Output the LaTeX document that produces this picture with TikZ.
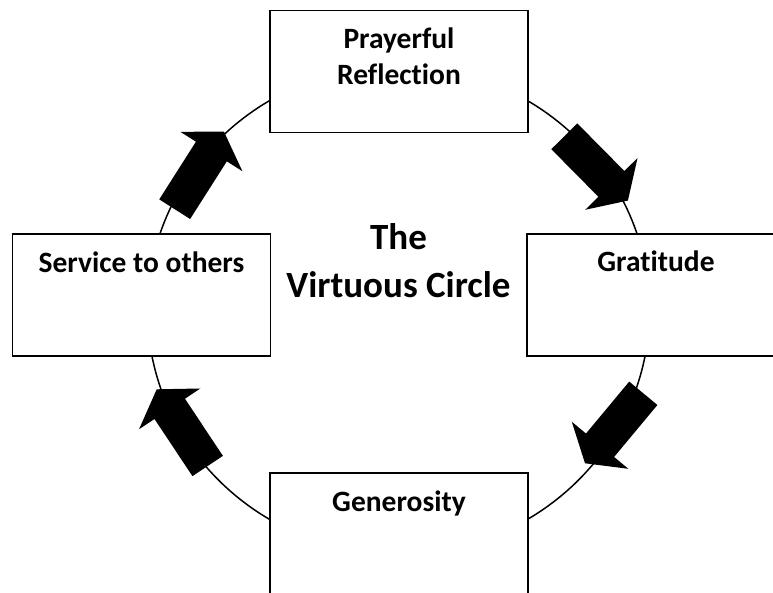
\documentclass[tikz,border=0pt]{standalone}
\usepackage{fontspec}
\setmainfont{Carlito}[Ligatures=NoCommon]
\usetikzlibrary{calc}
\begin{document}
\begin{tikzpicture}[x=1pt,y=-1pt,
  box/.style={draw, line width=1.8pt, fill=white, minimum width=258pt, minimum height=122pt, inner sep=0pt},
  boxtxt/.style={font=\fontsize{29.5}{36}\selectfont\bfseries, align=center, inner sep=0pt},
  centretxt/.style={font=\fontsize{37}{47.5}\selectfont\bfseries, align=center, inner sep=0pt},
  ring/.style={line width=1.5pt},
  blockarrow/.style={fill=black, draw=none}]
\clip (0,0) rectangle (773,593);
\draw[ring] (398.5,310) ellipse [x radius=251pt, y radius=244pt];
% boxes
\node[box] (pr) at (399,71.5) {};
\node[box] (gr) at (656,295) {};
\node[box] (ge) at (399,534) {};
\node[box] (se) at (141.5,295) {};
% texts (anchor=base is the baseline of the last line)
\node[boxtxt, anchor=base] (prt) at (399,85) {Prayerful\\Reflection};
\node[boxtxt, anchor=base] (grt) at (656,272) {Gratitude};
\node[boxtxt, anchor=base] (get) at (399,511.7) {Generosity};
\node[boxtxt, anchor=base] (sert) at (141.5,272.7) {Service to others};
\node[centretxt, anchor=base] (title) at (398.5,297.5) {The\\Virtuous Circle};
% block arrows
\foreach \n/\tx/\ty/\px/\py in {1/564.3/136.3/627.9/200.6, 2/643.3/393.3/585/463.3, 3/207.7/466/156.7/389.3, 4/174.7/209.2/224/131.7}{
  \coordinate (t\n) at (\tx,\ty);
  \coordinate (p\n) at (\px,\py);
  \coordinate (h\n) at ($(p\n)!23.5pt!(t\n)$);
  \fill[blockarrow] ($(t\n)!18.3pt!90:(p\n)$) -- ($(h\n)!18.3pt!90:(p\n)$) -- ($(h\n)!36.8pt!90:(p\n)$) -- (p\n) -- ($(h\n)!36.8pt!-90:(p\n)$) -- ($(h\n)!18.3pt!-90:(p\n)$) -- ($(t\n)!18.3pt!-90:(p\n)$) -- cycle;
}
\end{tikzpicture}
\end{document}
